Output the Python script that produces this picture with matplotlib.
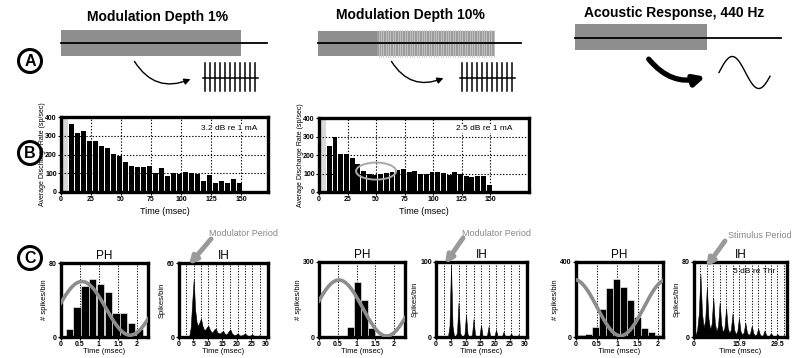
import numpy as np
import matplotlib
matplotlib.use("Agg")
import matplotlib.pyplot as plt
from matplotlib.patches import Rectangle, Ellipse, Circle, FancyArrowPatch

plt.rcParams["font.family"] = ["Liberation Sans", "DejaVu Sans"]
plt.rcParams["font.weight"] = "bold"

W, H = 800, 358
DOT = (0, (1.2, 1.6))
WAVE_GRAY = "#8d8d8d"

# ---- B : average discharge rate, 5 ms bins starting after the artifact ----
B_BIN_START = 6.5
B_BIN_WIDTH = 5.0
ARTIFACT_END = 6.0
b_xticks = [0, 25, 50, 75, 100, 125, 150]
b_yticks = [0, 100, 200, 300, 400]
rate_depth1 = [362, 315, 324, 274, 270, 245, 234, 204, 191, 160, 140, 131, 131,
               140, 103, 126, 83, 104, 95, 108, 104, 95, 61, 90, 50, 58, 50, 72,
               49, 5, 5, 5, 5]
rate_depth10 = [250, 298, 208, 205, 182, 150, 114, 100, 93, 96, 102, 110, 120,
                125, 108, 114, 99, 97, 108, 106, 105, 90, 106, 95, 86, 82, 85,
                88, 37, 5, 5, 5, 5, 5, 5]

# ---- C : period histograms (PH) ----
ph1_t = [0.22, 0.42, 0.63, 0.83, 1.04, 1.24, 1.45, 1.65, 1.86, 2.06]
ph1_n = [9, 32, 55, 63, 57, 49, 26, 26, 15, 9]
ph2_t = [0.84, 1.03, 1.21, 1.40]
ph2_n = [40, 221, 148, 36]
ph3_t = [0.14, 0.31, 0.48, 0.65, 0.82, 0.99, 1.16, 1.33, 1.50, 1.67, 1.84, 2.01]
ph3_n = [10, 18, 56, 148, 264, 307, 268, 197, 106, 48, 25, 12]
# stimulus waveform overlays: (mean, amplitude, time of peak, period)
ph1_wave = (31, 29, 0.55, 2.54)
ph2_wave = (116, 112, 0.53, 2.54)
ph3_wave = (157, 150, -0.05, 2.27)

# ---- C : interval histograms (IH) ----
MOD_PERIOD = 2.54       # ms
STIM_PERIOD = 2.27      # ms, 440 Hz
ih1_step = MOD_PERIOD / 5
ih1_n = [0, 0, 0, 0, 0, 0, 0, 1, 8, 28, 47, 22, 12, 9, 12, 15, 9, 6, 6, 8,
         9, 6, 4, 4, 6, 7, 4, 3, 3, 4, 5, 3, 2, 3, 5, 6, 3, 2, 1.5, 2,
         3, 1.5, 1, 1.5, 2, 3, 1.5, 1, 1, 1.5, 2, 1, 0.8, 0.8, 1, 1.4, 0.8,
         0.5, 0.5, 0.6, 0.5]
ih2_n = [0, 0, 0, 0, 0, 0, 0, 0, 0.5, 15, 97, 15, 1, 0.5, 6, 46, 6, 0.5, 0.5,
         4, 30, 4, 0.5, 0.5, 3, 24, 3, 0.5, 0.5, 2, 16, 2, 0.5, 0.5, 2, 14, 2,
         0.3, 0.3, 1, 10, 1, 0.3, 0.3, 1, 7, 1, 0.2, 0.2, 0.5, 5, 0.5, 0.2,
         0.2, 0.4, 3, 0.4, 0.2, 0.2, 0.2, 0.2]
ih3_step = STIM_PERIOD / 4
ih3_n = [0, 2, 8, 25, 67, 25, 10, 18, 53, 20, 8, 14, 42, 15, 6, 12, 37, 13, 5,
         10, 31, 10, 4, 8, 25, 8, 3, 6, 20, 6, 2.5, 5, 15, 5, 2, 4, 12, 4, 1.5,
         3, 9, 3, 1, 2, 7, 2, 1, 1.5, 4, 1.5, 0.5, 1, 3, 1, 0.5, 0.7, 2, 0.7]


def px_axes(fig, left, top, right, bottom):
    return fig.add_axes([left / W, 1 - bottom / H, (right - left) / W, (bottom - top) / H])


def style(ax, labelsize=5):
    for s in ax.spines.values():
        s.set_linewidth(2.4)
    ax.tick_params(direction="out", length=2, width=0.8, pad=1, labelsize=labelsize)


def rate_panel(ax, rates, xmax, note, note_x):
    centers = B_BIN_START + B_BIN_WIDTH * (np.arange(len(rates)) + 0.5)
    ax.axvspan(0, ARTIFACT_END, color="#d9d9d9", lw=0, zorder=0)
    for x in b_xticks[1:]:
        ax.axvline(x, color="k", lw=0.8, ls=DOT, zorder=1)
    for y in b_yticks[1:-1]:
        ax.axhline(y, color="k", lw=0.8, ls=DOT, zorder=1)
    ax.bar(centers, rates, width=B_BIN_WIDTH * 0.86, color="k", lw=0, zorder=2)
    ax.set_xlim(0, xmax)
    ax.set_ylim(0, 400)
    ax.set_xticks(b_xticks)
    ax.set_yticks(b_yticks)
    style(ax)
    ax.set_xlabel("Time (msec)", fontsize=6.5)
    ax.xaxis.set_label_coords(0.5, -0.2)
    ax.set_ylabel("Average Discharge Rate (sp/sec)", fontsize=5)
    ax.yaxis.set_label_coords(-0.072, 0.5)
    ax.text(note_x, 0.853, note, transform=ax.transAxes, ha="right", va="center",
            fontsize=6, fontweight="normal", zorder=3,
            bbox=dict(fc="white", ec="none", pad=0.3))


def phase_panel(ax, centers, counts, width, ymax, xmax, wave):
    for x in (0.5, 1, 1.5, 2):
        ax.axvline(x, color="k", lw=0.7, ls=DOT, zorder=1)
    ax.bar(centers, counts, width=width, color="k", edgecolor="white", lw=0.4, zorder=2)
    mean, amp, peak, period = wave
    t = np.linspace(0, xmax, 200)
    ax.plot(t, mean + amp * np.cos(2 * np.pi * (t - peak) / period),
            color=WAVE_GRAY, lw=2.6, zorder=3)
    ax.set_xlim(0, xmax)
    ax.set_ylim(0, ymax)
    ax.set_xticks([0, 0.5, 1, 1.5, 2], ["0", "0.5", "1", "1.5", "2"])
    ax.set_yticks([0, ymax])
    style(ax)
    ax.set_title("PH", fontsize=8.5, pad=3)
    ax.set_xlabel("Time (msec)", fontsize=5.5, labelpad=0)
    ax.set_ylabel("# spikes/bin", fontsize=5.5, labelpad=1)


def interval_panel(ax, step, counts, ymax, xmax, period, nlines, xticks, xticklabels):
    for k in range(1, nlines + 1):
        ax.axvline(k * period, color="k", lw=0.7, ls=DOT, zorder=1)
    t = step * np.arange(len(counts))
    ax.fill_between(t, counts, color="k", lw=0.4, zorder=2)
    ax.set_xlim(0, xmax)
    ax.set_ylim(0, ymax)
    ax.set_xticks(xticks, xticklabels)
    ax.set_yticks([0, ymax])
    style(ax)
    ax.set_title("IH", fontsize=8.5, pad=3)
    ax.set_xlabel("Time (msec)", fontsize=5.5, labelpad=0)
    ax.set_ylabel("Spikes/bin", fontsize=5.5, labelpad=1)


fig = plt.figure(figsize=(W / 100, H / 100), dpi=100)

# row B
b1 = px_axes(fig, 61, 117, 268, 192)
rate_panel(b1, rate_depth1, 172.5, "3.2 dB re 1 mA", 0.947)
b2 = px_axes(fig, 319, 118, 529, 192)
rate_panel(b2, rate_depth10, 184, "2.5 dB re 1 mA", 0.92)
b2.add_patch(Ellipse((50, 113), 35, 92, fill=False, ec="#a8a8a8", lw=1.4, zorder=4))

# row C
ih_ticks = [0, 5, 10, 15, 20, 25, 30]
p1 = px_axes(fig, 61, 263, 148, 337)
phase_panel(p1, ph1_t, ph1_n, 0.19, 80, 2.29, ph1_wave)
i1 = px_axes(fig, 179, 263, 268, 337)
interval_panel(i1, ih1_step, ih1_n, 60, 30.8, MOD_PERIOD, 11, ih_ticks,
               [str(v) for v in ih_ticks])
p2 = px_axes(fig, 319, 262, 405, 337)
phase_panel(p2, ph2_t, ph2_n, 0.17, 300, 2.29, ph2_wave)
i2 = px_axes(fig, 436, 262, 527, 337)
interval_panel(i2, ih1_step, ih2_n, 100, 30.8, MOD_PERIOD, 11, ih_ticks,
               [str(v) for v in ih_ticks])
p3 = px_axes(fig, 576, 262, 663, 337)
phase_panel(p3, ph3_t, ph3_n, 0.16, 400, 2.12, ph3_wave)
i3 = px_axes(fig, 694, 262, 787, 337)
interval_panel(i3, ih3_step, ih3_n, 80, 32.9, STIM_PERIOD, 14,
               [0, 7 * STIM_PERIOD, 13 * STIM_PERIOD], ["0", "15.9", "29.5"])
i3.text(0.42, 0.87, "5 dB re Thr", transform=i3.transAxes, fontsize=6,
        fontweight="normal", va="center", zorder=3)

# overlay in pixel units for the schematic drawings and annotations
ov = fig.add_axes([0, 0, 1, 1], zorder=10)
ov.set_xlim(0, W)
ov.set_ylim(H, 0)
ov.axis("off")

for letter, cy in (("A", 61), ("B", 153), ("C", 258)):
    ov.add_patch(Circle((30, cy), 11.5, fill=False, ec="k", lw=2.2))
    ov.text(30, cy + 0.5, letter, ha="center", va="center", fontsize=11.5)

ov.text(158, 17, "Modulation Depth 1%", ha="center", va="center", fontsize=10)
ov.text(410, 15, "Modulation Depth 10%", ha="center", va="center", fontsize=10)
ov.text(674, 13, "Acoustic Response, 440 Hz", ha="center", va="center", fontsize=10)

stim_gray = "#8e8e8e"
# panel 1: electric carrier, 1 % depth
ov.add_patch(Rectangle((61, 30), 180, 26, fc=stim_gray, ec="none"))
ov.plot([61, 267], [43, 43], color="k", lw=1.3)
# panel 2: 10 % depth, modulated portion
ov.add_patch(Rectangle((318, 31), 59, 25, fc=stim_gray, ec="none"))
ov.add_patch(Rectangle((377, 31), 118, 25, fc="#9c9c9c", ec="none"))
for x in np.arange(378.5, 495, 2.4):
    ov.plot([x, x], [30, 57], color="#c8c8c8", lw=0.6)
ov.plot([318, 521], [43, 43], color="k", lw=1.3)
# panel 3: acoustic tone
ov.add_patch(Rectangle((575, 24), 132, 26, fc=stim_gray, ec="none"))
ov.plot([575, 781], [38, 38], color="k", lw=1.3)

for (x0, y0), (x1, y1) in (((133, 59), (193, 78)), ((390, 59), (446, 77))):
    ov.add_patch(FancyArrowPatch((x0, y0), (x1, y1), connectionstyle="arc3,rad=0.45",
                                 arrowstyle="-|>", mutation_scale=9, lw=1, color="k"))
ov.add_patch(FancyArrowPatch((647, 57), (708, 76), connectionstyle="arc3,rad=0.35",
                             arrowstyle="-|>", mutation_scale=16, lw=3.8, color="k"))

for x_start in (205, 462):
    for k in range(11):
        xs = x_start + 5 * k
        ov.plot([xs, xs], [63, 91], color="k", lw=1.1)
    ov.plot([x_start - 2, x_start + 53], [78, 78], color="k", lw=1.1)

xs = np.linspace(719, 770, 100)
ov.plot(xs, 72.5 - 16 * np.sin(2 * np.pi * (xs - 719) / 53), color="k", lw=1)

# period annotations in row C
note_gray = "#9a9a9a"
for text, tx, ty, start, end in (("Modulator Period", 209, 234, (211, 239), (189, 265)),
                                 ("Modulator Period", 462, 234, (463, 238), (445, 264)),
                                 ("Stimulus Period", 728, 235, (725, 241), (706, 267))):
    ov.text(tx, ty, text, ha="left", va="center", fontsize=6.5, fontweight="normal",
            color="#888888")
    ov.add_patch(FancyArrowPatch(start, end, arrowstyle="-|>", mutation_scale=11,
                                 lw=3.5, color=note_gray, shrinkA=0, shrinkB=0))

fig.savefig("out.png", dpi=100)
